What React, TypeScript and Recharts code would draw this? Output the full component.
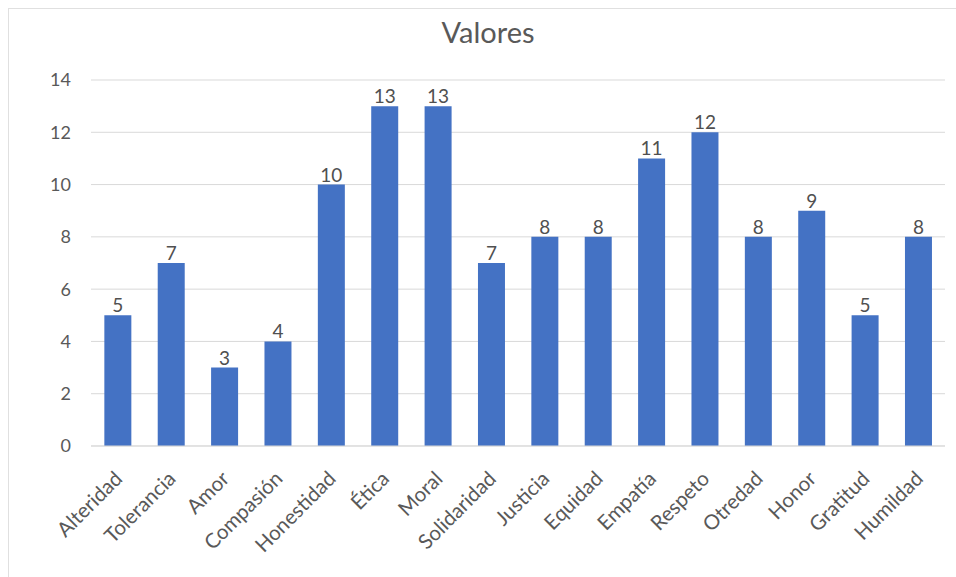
import { BarChart, Bar, XAxis, YAxis, CartesianGrid, LabelList } from "recharts";

const valores = [
  "Alteridad",
  "Tolerancia",
  "Amor",
  "Compasión",
  "Honestidad",
  "Ética",
  "Moral",
  "Solidaridad",
  "Justicia",
  "Equidad",
  "Empatía",
  "Respeto",
  "Otredad",
  "Honor",
  "Gratitud",
  "Humildad",
];

const frecuencias = [5, 7, 3, 4, 10, 13, 13, 7, 8, 8, 11, 12, 8, 9, 5, 8];

const yTicks = [0, 2, 4, 6, 8, 10, 12, 14];

const data = valores.map((nombre, i) => ({ nombre, valor: frecuencias[i] }));

const FONT = "Lato, 'Open Sans', sans-serif";

const RotatedTick = (props: any) => {
  const { x, y, payload } = props;
  return (
    <g transform={`translate(${x + 6},${y + 26})`}>
      <text
        transform="rotate(-45)"
        textAnchor="end"
        fill="#595959"
        fontSize={20.5}
        fontFamily={FONT}
      >
        {payload.value}
      </text>
    </g>
  );
};

export default function App() {
  return (
    <div
      style={{
        position: "absolute",
        top: 0,
        left: 0,
        width: 956,
        height: 577,
        background: "#fff",
        fontFamily: FONT,
      }}
    >
      <div
        style={{
          position: "absolute",
          top: 8,
          left: 8,
          right: 0,
          bottom: 0,
          borderTop: "1px solid #e0e0e0",
          borderLeft: "1px solid #e0e0e0",
        }}
      />
      <div
        style={{
          position: "absolute",
          top: 14,
          left: 0,
          width: 976,
          textAlign: "center",
          fontSize: 29,
          color: "#595959",
        }}
      >
        Valores
      </div>
      <div style={{ position: "absolute", top: 0, left: 0 }}>
        <BarChart
          width={956}
          height={577}
          data={data}
          margin={{ top: 80, right: 11, bottom: 0, left: 21 }}
          barCategoryGap="25%"
        >
          <CartesianGrid vertical={false} stroke="#d9d9d9" />
          <XAxis
            dataKey="nombre"
            interval={0}
            tick={<RotatedTick />}
            tickLine={false}
            axisLine={{ stroke: "#d9d9d9" }}
            height={131}
          />
          <YAxis
            domain={[0, 14]}
            ticks={yTicks}
            width={70}
            tickLine={false}
            axisLine={false}
            tick={{ fill: "#595959", fontSize: 18, fontFamily: FONT }}
            tickMargin={14}
          />
          <Bar dataKey="valor" fill="#4472C4" isAnimationActive={false}>
            <LabelList
              dataKey="valor"
              position="top"
              fill="#505050"
              fontSize={19}
              fontFamily={FONT}
              offset={3}
            />
          </Bar>
        </BarChart>
      </div>
    </div>
  );
}
